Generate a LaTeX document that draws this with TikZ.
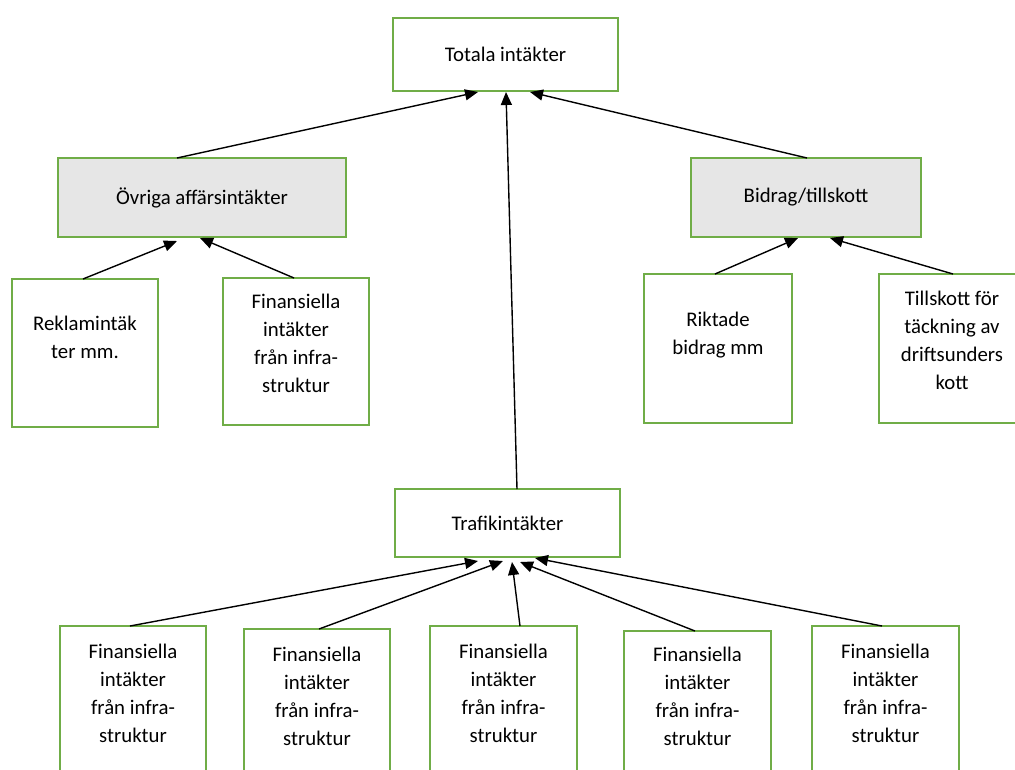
\documentclass[tikz,border=0pt]{standalone}
\usepackage{fontspec}
\setmainfont{Carlito}
\usetikzlibrary{arrows.meta}
\definecolor{boxgreen}{RGB}{112,173,71}
\definecolor{boxgray}{RGB}{230,230,230}
\tikzset{
  box/.style={draw=boxgreen, line width=2pt, anchor=north west, inner sep=0pt, outer sep=0pt, font=\fontsize{20.8}{28}\selectfont},
  graybox/.style={box, fill=boxgray},
  txt/.style={anchor=north, inner sep=0pt, align=center, font=\fontsize{20.8}{28}\selectfont},
  conn/.style={line width=1.4pt, -{Triangle[length=13pt,width=11pt]}}
}
\begin{document}
\begin{tikzpicture}[x=1pt,y=-1pt]
\path[use as bounding box] (0,0) rectangle (1015,769);
\clip (0,0) rectangle (1015,769);
% top
\node[box, minimum width=225pt, minimum height=73pt] (tot) at (393,18) {Totala intäkter};
% second level
\node[graybox, minimum width=288pt, minimum height=79pt] (ov) at (58,158) {Övriga affärsintäkter};
\node[graybox, minimum width=230pt, minimum height=79pt] (bi) at (691,158) {Bidrag/tillskott};
% third level
\node[box, minimum width=146pt, minimum height=148pt] (rek) at (12,279) {};
\node[txt] (rekt) at (85,315.5) {Reklamintäk\\ter mm.};
\node[box, minimum width=146pt, minimum height=147pt] (finl) at (223,278) {};
\node[txt] (finlt) at (296,293.5) {Finansiella\\intäkter\\från infra-\\struktur};
\node[box, minimum width=148pt, minimum height=149pt] (rik) at (644,274) {};
\node[txt] (rikt) at (718,311.5) {Riktade\\bidrag mm};
\node[box, minimum width=146pt, minimum height=149pt] (til) at (879,274) {};
\node[txt] (tilt) at (952,290.5) {Tillskott för\\täckning av\\driftsunders\\kott};
% trafik
\node[box, minimum width=225pt, minimum height=68pt] (tr) at (395,489) {Trafikintäkter};
% bottom row
\node[box, minimum width=146pt, minimum height=180pt] (b1) at (60,626) {};
\node[txt] (b1t) at (133,643.5) {Finansiella\\intäkter\\från infra-\\struktur};
\node[box, minimum width=146pt, minimum height=180pt] (b2) at (244,629) {};
\node[txt] (b2t) at (317,646.5) {Finansiella\\intäkter\\från infra-\\struktur};
\node[box, minimum width=147pt, minimum height=180pt] (b3) at (430,626) {};
\node[txt] (b3t) at (503.5,643.5) {Finansiella\\intäkter\\från infra-\\struktur};
\node[box, minimum width=147pt, minimum height=180pt] (b4) at (624,631) {};
\node[txt] (b4t) at (697.5,646.5) {Finansiella\\intäkter\\från infra-\\struktur};
\node[box, minimum width=147pt, minimum height=180pt] (b5) at (812,626) {};
\node[txt] (b5t) at (885.5,643.5) {Finansiella\\intäkter\\från infra-\\struktur};
% connectors
\draw[conn] ([xshift=-25pt]ov.north) -- ([xshift=-27.5pt,yshift=-1pt]tot.south);
\draw[conn] ([xshift=9.5pt]tr.north) -- ([xshift=0.5pt,yshift=-1pt]tot.south);
\draw[conn] ([xshift=1pt]bi.north) -- ([xshift=24.5pt,yshift=-1pt]tot.south);
\draw[conn] ([xshift=-2pt]rek.north) -- ([xshift=-25pt,yshift=-4pt]ov.south);
\draw[conn] ([xshift=-2pt]finl.north) -- ([xshift=-2pt,yshift=-1pt]ov.south);
\draw[conn] ([xshift=-3pt]rik.north) -- ([xshift=-8pt,yshift=-1pt]bi.south);
\draw[conn] ([xshift=1pt]til.north) -- ([xshift=24pt,yshift=-1pt]bi.south);
\draw[conn] ([xshift=-3pt]b1.north) -- ([xshift=-29.5pt,yshift=-4pt]tr.south);
\draw[conn] ([xshift=2pt]b2.north) -- ([xshift=-4.5pt,yshift=-4pt]tr.south);
\draw[conn] ([xshift=16.5pt]b3.north) -- ([xshift=4.5pt,yshift=-5pt]tr.south);
\draw[conn] ([xshift=-2.5pt]b4.north) -- ([xshift=12.5pt,yshift=-5pt]tr.south);
\draw[conn] ([xshift=-3.5pt]b5.north) -- ([xshift=27.5pt,yshift=-1pt]tr.south);
\end{tikzpicture}
\end{document}
